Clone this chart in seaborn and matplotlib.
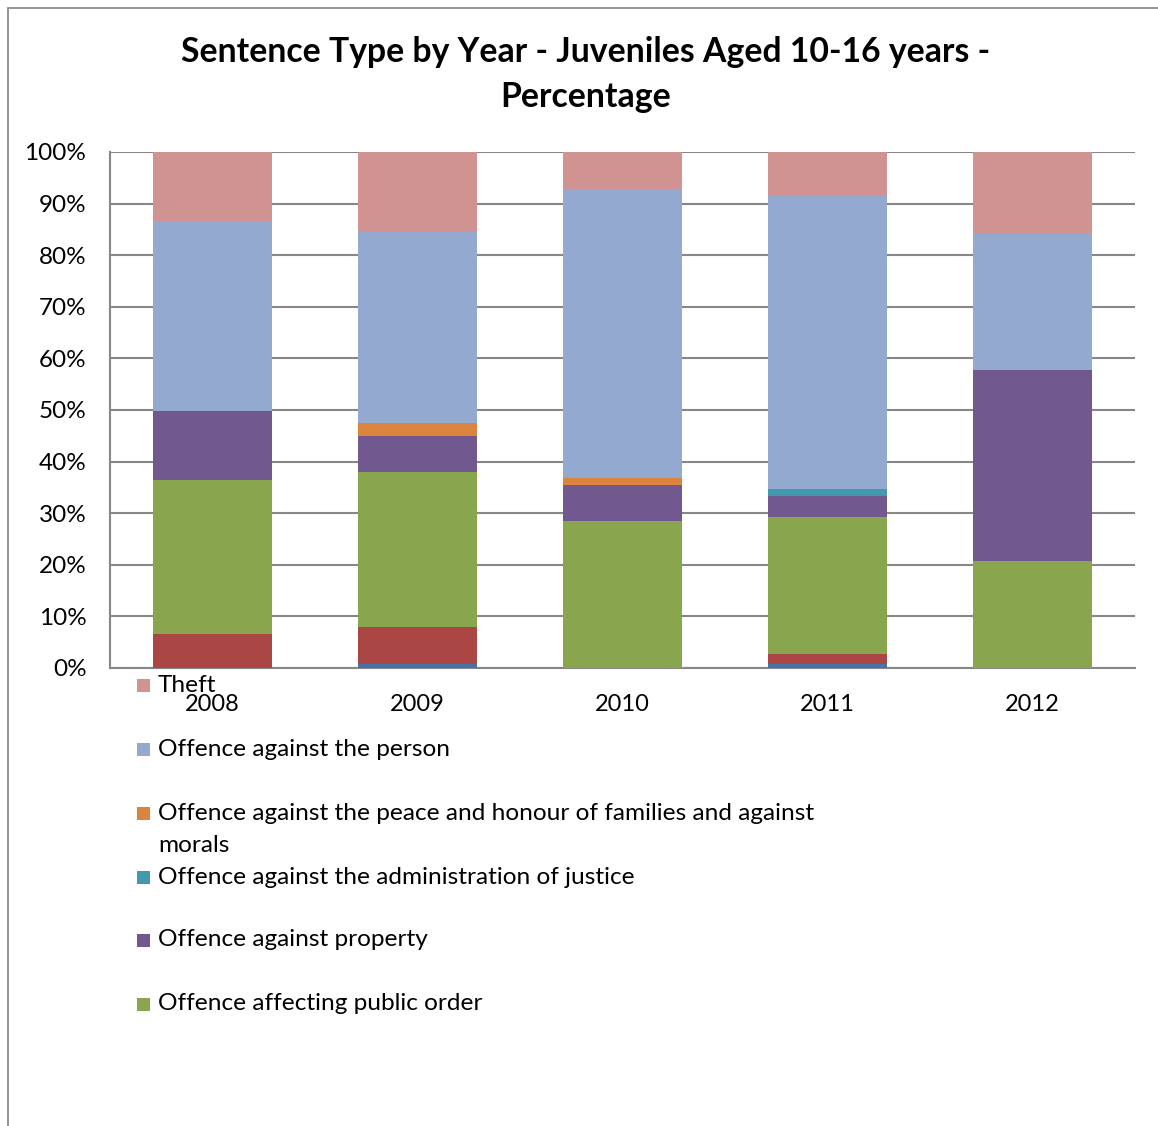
import matplotlib
matplotlib.use("Agg")
import matplotlib.pyplot as plt
from matplotlib.patches import Rectangle
import numpy as np
import pandas as pd
import seaborn as sns

# Sentence type shares (%) by year, listed bottom -> top of each stacked bar
years = ["2008", "2009", "2010", "2011", "2012"]

other_a = [0.0, 0.8, 0.0, 0.8, 0.0]
other_b = [6.5, 7.2, 0.0, 2.0, 0.0]
public_order = [30.0, 29.9, 28.4, 26.4, 20.8]
property_ = [13.3, 7.1, 7.1, 4.2, 36.9]
justice = [0.0, 0.0, 0.0, 1.3, 0.0]
peace_morals = [0.0, 2.4, 1.4, 0.0, 0.0]
person = [36.8, 37.0, 55.9, 56.8, 26.4]
theft = [13.4, 15.6, 7.2, 8.5, 15.9]

series_names = [
    "Other (a)",
    "Other (b)",
    "Offence affecting public order",
    "Offence against property",
    "Offence against the administration of justice",
    "Offence against the peace and honour of families and against morals",
    "Offence against the person",
    "Theft",
]
series_values = [other_a, other_b, public_order, property_, justice,
                 peace_morals, person, theft]
series_colors = ["#4572A7", "#AA4643", "#89A54E", "#71588F", "#4198AF",
                 "#DB843D", "#93A9CF", "#D19392"]

# Legend entries shown (top -> bottom)
legend_names = [
    "Theft",
    "Offence against the person",
    "Offence against the peace and honour of families and against\nmorals",
    "Offence against the administration of justice",
    "Offence against property",
    "Offence affecting public order",
]

sns.set_theme(style="white")
plt.rcParams["font.family"] = ["Lato", "DejaVu Sans"]
plt.rcParams["text.color"] = "black"

W, H = 1158, 1126
fig = plt.figure(figsize=(W / 100, H / 100), dpi=100)
fig.patch.set_facecolor("white")

# outer chart frame (top and left edges visible)
fig.patches.append(Rectangle((8 / W, -0.2), 1.2, 1 - 8 / H + 0.2,
                             transform=fig.transFigure, fill=False,
                             edgecolor="#8c8c8c", linewidth=1.3))

ax = fig.add_axes([110 / W, 1 - 668 / H, (1135 - 110) / W, (668 - 152) / H])

df = pd.DataFrame({"year": years})
cum = np.cumsum(np.array(series_values), axis=0)
# draw cumulative heights from the top layer down so each overlays the previous
for k in range(len(series_values) - 1, -1, -1):
    df["h"] = cum[k]
    sns.barplot(data=df, x="year", y="h", color=series_colors[k],
                saturation=1, width=0.576, errorbar=None, ax=ax,
                linewidth=0, zorder=3)

ax.set_xlim(-0.5, 4.5)
ax.set_ylim(0, 100)
ax.set_yticks(np.arange(0, 101, 10))
ax.set_yticklabels([f"{v}%" for v in range(0, 101, 10)])
ax.set_xlabel("")
ax.set_ylabel("")
ax.grid(axis="y", color="#878787", linewidth=1.5, zorder=0)
ax.grid(axis="x", visible=False)
ax.set_axisbelow(True)
for side in ["top", "right"]:
    ax.spines[side].set_visible(False)
for side in ["left", "bottom"]:
    ax.spines[side].set_color("#878787")
    ax.spines[side].set_linewidth(1.5)
ax.tick_params(axis="both", length=0, colors="black")
ax.tick_params(axis="y", pad=17, labelsize=17.5)
ax.tick_params(axis="x", pad=19, labelsize=17)

fig.text(586 / W, 1 - 52 / H, "Sentence Type by Year - Juveniles Aged 10-16 years -",
         ha="center", va="center", fontsize=24.3, fontweight="bold")
fig.text(586 / W, 1 - 97 / H, "Percentage",
         ha="center", va="center", fontsize=24.3, fontweight="bold")

# legend (Theft on top, matching the stacking order)
legend_colors = [series_colors[7], series_colors[6], series_colors[5],
                 series_colors[4], series_colors[3], series_colors[2]]
legend_y = [685, 749, 813, 877, 940, 1004]
for name, col, y in zip(legend_names, legend_colors, legend_y):
    fig.patches.append(Rectangle((137 / W, 1 - (y + 7) / H), 13 / W, 13 / H,
                                 transform=fig.transFigure, facecolor=col,
                                 edgecolor="none"))
    lines = name.split("\n")
    for i, line in enumerate(lines):
        fig.text(158 / W, 1 - (y + 32 * i) / H, line, ha="left", va="center",
                 fontsize=17.6)

fig.savefig("out.png", dpi=100)
